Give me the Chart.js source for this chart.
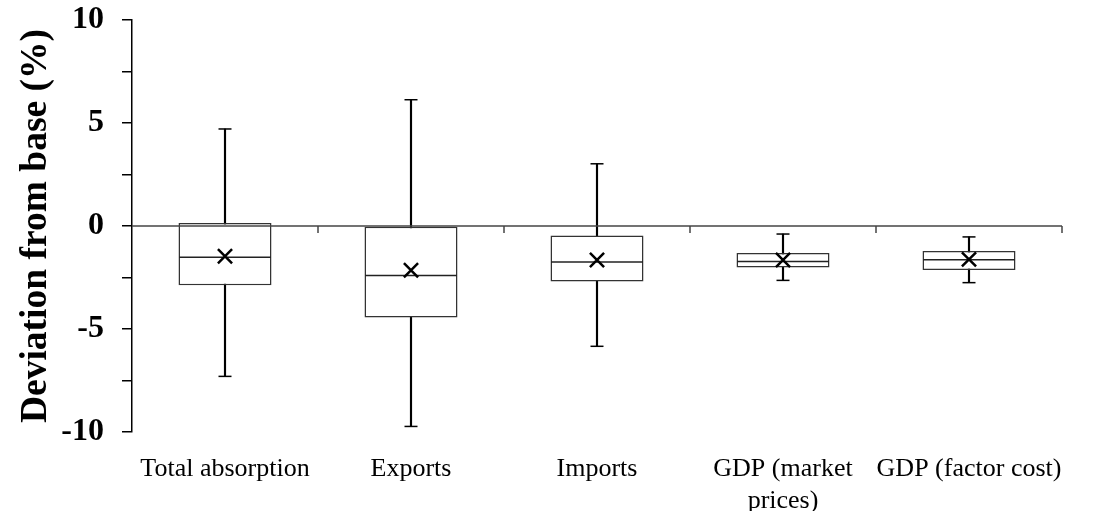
<!DOCTYPE html>
<html>
<head>
<meta charset="utf-8">
<script src="https://cdn.jsdelivr.net/npm/chart.js@4/dist/chart.umd.min.js"></script>
<style>
html,body{margin:0;padding:0;background:#fff;}
#wrap{width:1103px;height:511px;}
</style>
</head>
<body>
<div id="wrap"><canvas id="boxChart" width="1103" height="511"></canvas></div>
<script>
const categories = ["Total absorption", "Exports", "Imports", ["GDP (market", "prices)"], "GDP (factor cost)"];
const lowValues    = [-7.30, -9.73, -5.84, -2.64, -2.75];
const q1Values     = [-2.88, -4.44, -2.69, -2.02, -2.14];
const medianValues = [-1.52, -2.40, -1.75, -1.72, -1.64];
const meanValues   = [-1.47, -2.15, -1.65, -1.65, -1.62];
const q3Values     = [0.15, 0.00, -0.46, -1.31, -1.21];
const highValues   = [4.71, 6.13, 3.02, -0.39, -0.53];
const yTicks = [-10, -5, 0, 5, 10];

const serif = "'Liberation Serif', 'Times New Roman', serif";

// zero line with category ticks hanging below it
const zeroAxis = {
  id: "zeroAxis",
  afterDatasetsDraw(chart){
    const {ctx, chartArea, scales:{x, y}} = chart;
    const y0 = y.getPixelForValue(0);
    ctx.save();
    ctx.strokeStyle = "#444"; ctx.lineWidth = 1.5;
    ctx.beginPath(); ctx.moveTo(chartArea.left, y0); ctx.lineTo(chartArea.right, y0); ctx.stroke();
    for(let i=0;i<categories.length;i++){
      const px = x.getPixelForValue(i + 0.5);
      ctx.beginPath(); ctx.moveTo(px, y0); ctx.lineTo(px, y0 + 7); ctx.stroke();
    }
    ctx.restore();
  }
};

new Chart(document.getElementById("boxChart"), {
  data: {
    labels: categories,
    datasets: [
      {type:"bar", data: lowValues.map((v,i)=>[v, highValues[i]]), backgroundColor:"#000", barThickness:1.5, grouped:false, order:3},
      {type:"bar", data: q1Values.map((v,i)=>[v, q3Values[i]]), backgroundColor:"#fff", borderColor:"#333", borderWidth:1.5, borderSkipped:false,
        barPercentage:0.5, categoryPercentage:1, grouped:false, order:2},
      {type:"line", data: lowValues, showLine:false, pointStyle:"line", pointRadius:6.5, borderColor:"#000", borderWidth:1.5, order:1},
      {type:"line", data: highValues, showLine:false, pointStyle:"line", pointRadius:6.5, borderColor:"#000", borderWidth:1.5, order:1},
      {type:"line", data: medianValues, showLine:false, pointStyle:"line", pointRadius:46, borderColor:"#222", borderWidth:1.5, order:1},
      {type:"line", data: meanValues, showLine:false, pointStyle:"crossRot", pointRadius:10, borderColor:"#000", borderWidth:2.5, order:0}
    ]
  },
  options: {
    responsive:false, animation:false,
    layout:{autoPadding:false, padding:{top:20, right:41, bottom:0, left:0}},
    plugins:{legend:{display:false}, tooltip:{enabled:false}},
    scales:{
      x:{
        grid:{display:false}, border:{display:false},
        ticks:{color:"#000", font:{family:serif, size:26}, padding:14, maxRotation:0, autoSkip:false},
        afterFit(s){ s.height = 79; }
      },
      y:{
        min:-10, max:10,
        border:{display:true, color:"#000", width:1.5},
        grid:{drawOnChartArea:false, drawTicks:true, tickLength:10, color:"#000", lineWidth:1.5},
        ticks:{stepSize:2.5, color:"#000", padding:18, font:{family:serif, size:32, weight:"bold"},
          callback:(v)=> yTicks.includes(v) ? String(v) : ""},
        title:{display:true, text:"Deviation from base (%)", color:"#000", font:{family:serif, size:37.5, weight:"bold"}, padding:{top:14, bottom:0}},
        afterFit(s){ s.width = 132; s.paddingTop = 0; s.paddingBottom = 0; }
      }
    }
  },
  plugins:[zeroAxis]
});
</script>
</body>
</html>
